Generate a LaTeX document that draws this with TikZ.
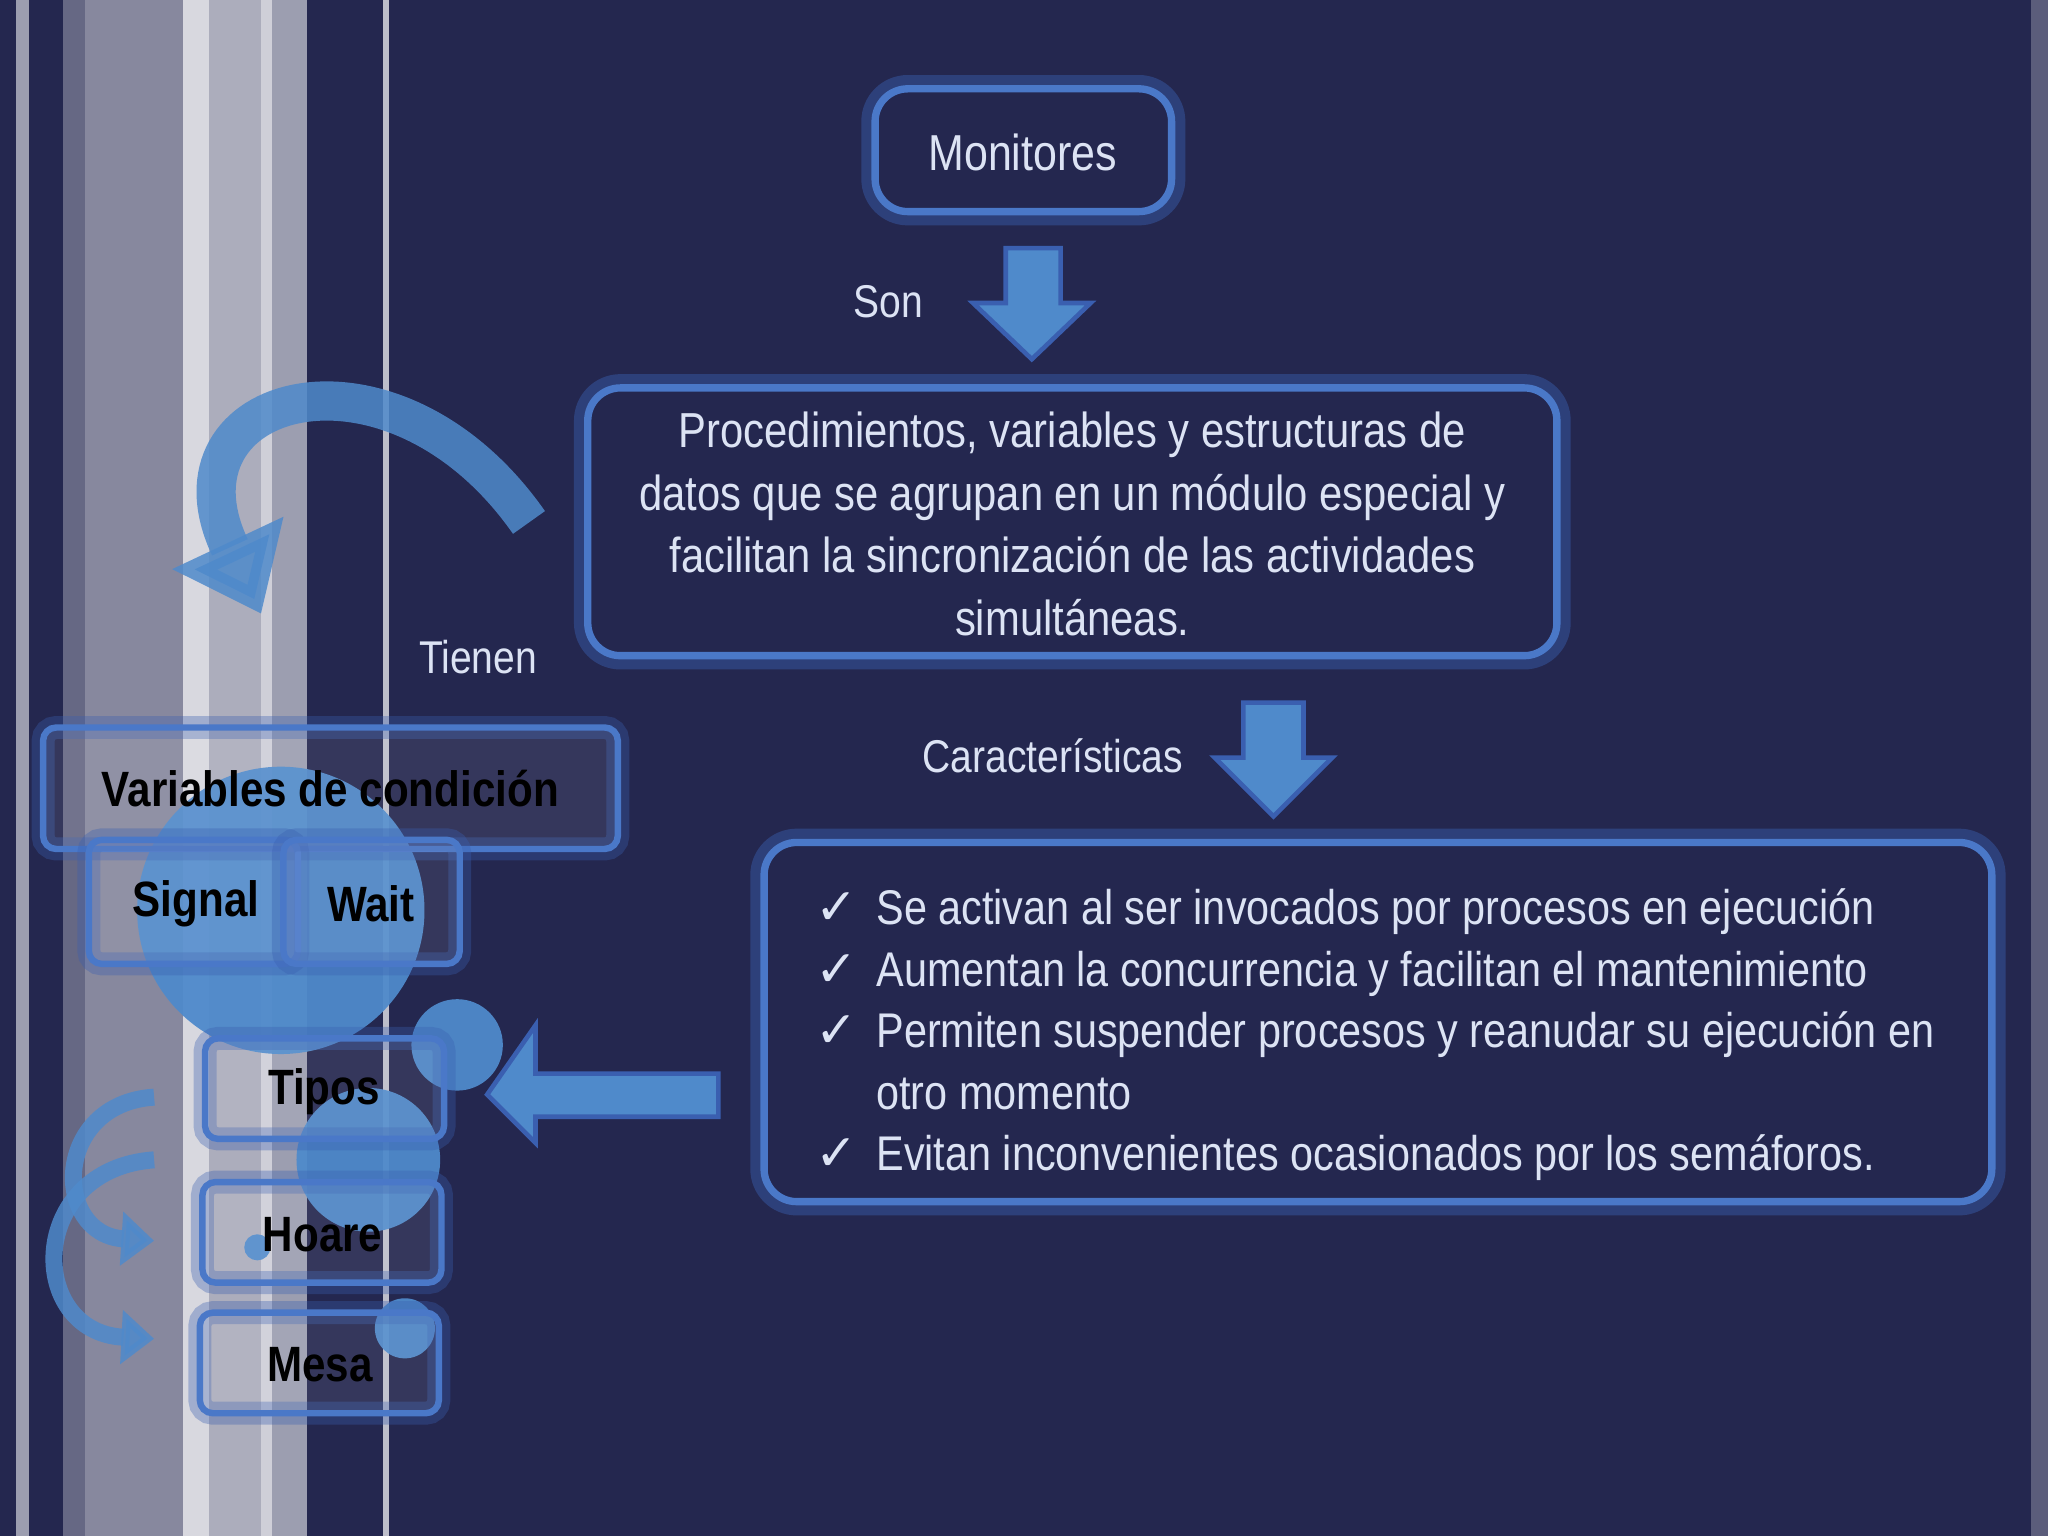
\documentclass[tikz,border=0pt]{standalone}
\usepackage{fontspec}
\setmainfont[FakeStretch=0.85]{Liberation Sans}
\usetikzlibrary{arrows.meta}
\definecolor{bg}{HTML}{24274F}
\definecolor{txt}{HTML}{DCE3F4}
\definecolor{bord}{HTML}{4A78C8}
\definecolor{glow}{HTML}{3A5FB0}
\definecolor{arr}{HTML}{4F8ACB}
\begin{document}
\begin{tikzpicture}[x=0.01cm,y=-0.01cm,
  bx/.style={draw=bord,line width=1.6pt,rounded corners=0.25cm,fill=bg,
     preaction={draw=glow,line width=6pt,opacity=0.45}},
  lb/.style={draw=bord,line width=1.4pt,rounded corners=0.1cm,fill=white,fill opacity=0.08,
     preaction={draw=glow,line width=5pt,opacity=0.35}},
  wt/.style={text=txt,font=\fontsize{10}{12.5}\selectfont,align=center},
  bt/.style={text=black,font=\bfseries\fontsize{10.8}{12}\selectfont},
  circ/.style={fill=arr,opacity=0.95},
  dn/.style={fill=arr,draw=glow,line width=1pt}]
\fill[bg] (0,0) rectangle (1568,1176);
% left stripes
\fill[fill=bg!45!white] (12,0) rectangle (22,1176);
\fill[fill=bg!70!white] (48,0) rectangle (65,1176);
\fill[fill=bg!55!white] (65,0) rectangle (140,1176);
\fill[fill=bg!18!white] (140,0) rectangle (160,1176);
\fill[fill=bg!38!white] (160,0) rectangle (200,1176);
\fill[fill=bg!22!white] (200,0) rectangle (208,1176);
\fill[fill=bg!45!white] (208,0) rectangle (235,1176);
\fill[fill=bg!30!white] (293,0) rectangle (298,1176);
\fill[fill=bg!75!white] (1555,0) rectangle (1568,1176);
% Monitores
\draw[bx] (670,68) rectangle (897,162);
\node[wt,font=\fontsize{11}{13}\selectfont] (mon) at (783,117) {Monitores};
% arrow 1
\draw[dn] (770,190) -- (812,190) -- (812,232) -- (835,232) -- (790,275) -- (745,232) -- (770,232) -- cycle;
\node[wt] (son) at (680,231) {Son};
% big box
\draw[bx] (450,297) rectangle (1192,502);
\node[wt,font=\fontsize{10.7}{13.6}\selectfont] (proc) at (821,401) {Procedimientos, variables y estructuras de\\datos que se agrupan en un módulo especial y\\facilitan la sincronización de las actividades\\simultáneas.};
% arrow 2
\draw[dn] (952,538) -- (998,538) -- (998,580) -- (1020,580) -- (975,625) -- (930,580) -- (952,580) -- cycle;
\node[wt] (car) at (806,579) {Características};
% chars box
\draw[bx] (585,645) rectangle (1525,920);
\node[wt,align=left,anchor=north west,font=\fontsize{10.6}{13.4}\selectfont] (list) at (612,668) {%
\makebox[1.25em][l]{\fontspec{DejaVu Sans}\fontsize{11}{10}\selectfont ✓}Se activan al ser invocados por procesos en ejecución\\
\makebox[1.25em][l]{\fontspec{DejaVu Sans}\fontsize{11}{10}\selectfont ✓}Aumentan la concurrencia y facilitan el mantenimiento\\
\makebox[1.25em][l]{\fontspec{DejaVu Sans}\fontsize{11}{10}\selectfont ✓}Permiten suspender procesos y reanudar su ejecución en\\
\makebox[1.25em][l]{}otro momento\\
\makebox[1.25em][l]{\fontspec{DejaVu Sans}\fontsize{11}{10}\selectfont ✓}Evitan inconvenientes ocasionados por los semáforos.};
% curved arrow
\draw[draw=arr,line width=0.3cm,-{Triangle[length=0.6cm,width=0.9cm]},opacity=0.85] (405,400) .. controls (300,250) and (120,300) .. (200,470);
\node[wt] (tie) at (366,503) {Tienen};
% left arrow
\draw[dn] (550,822) -- (410,822) -- (410,785) -- (373,838) -- (410,875) -- (410,855) -- (550,855) -- cycle;
% circles
\fill[circ] (215,697) circle (110);
\fill[circ] (350,800) circle (35);
\fill[circ] (282,888) circle (55);
\fill[circ] (197,955) circle (10);
\fill[circ] (310,1017) circle (23);
% left boxes
\draw[lb] (33,557) rectangle (473,650);
\node[bt] (vc) at (253,604) {Variables de condición};
\draw[lb] (68,643) rectangle (228,738);
\node[bt] (sig) at (150,692) {Signal};
\draw[lb] (217,643) rectangle (352,738);
\node[bt] (wai) at (284,692) {Wait};
\draw[lb] (157,795) rectangle (340,872);
\node[bt] (tip) at (248,836) {Tipos};
\draw[lb] (155,905) rectangle (338,982);
\node[bt] (hoa) at (247,945) {Hoare};
\draw[lb] (153,1005) rectangle (336,1082);
\node[bt] (mes) at (245,1045) {Mesa};
% small curved arrows
\draw[draw=arr,line width=0.13cm,-{Triangle[length=0.25cm,width=0.4cm]},opacity=0.85] (118,840) .. controls (40,845) and (40,945) .. (118,950);
\draw[draw=arr,line width=0.13cm,-{Triangle[length=0.25cm,width=0.4cm]},opacity=0.85] (118,888) .. controls (20,895) and (20,1020) .. (118,1025);
\end{tikzpicture}
\end{document}
